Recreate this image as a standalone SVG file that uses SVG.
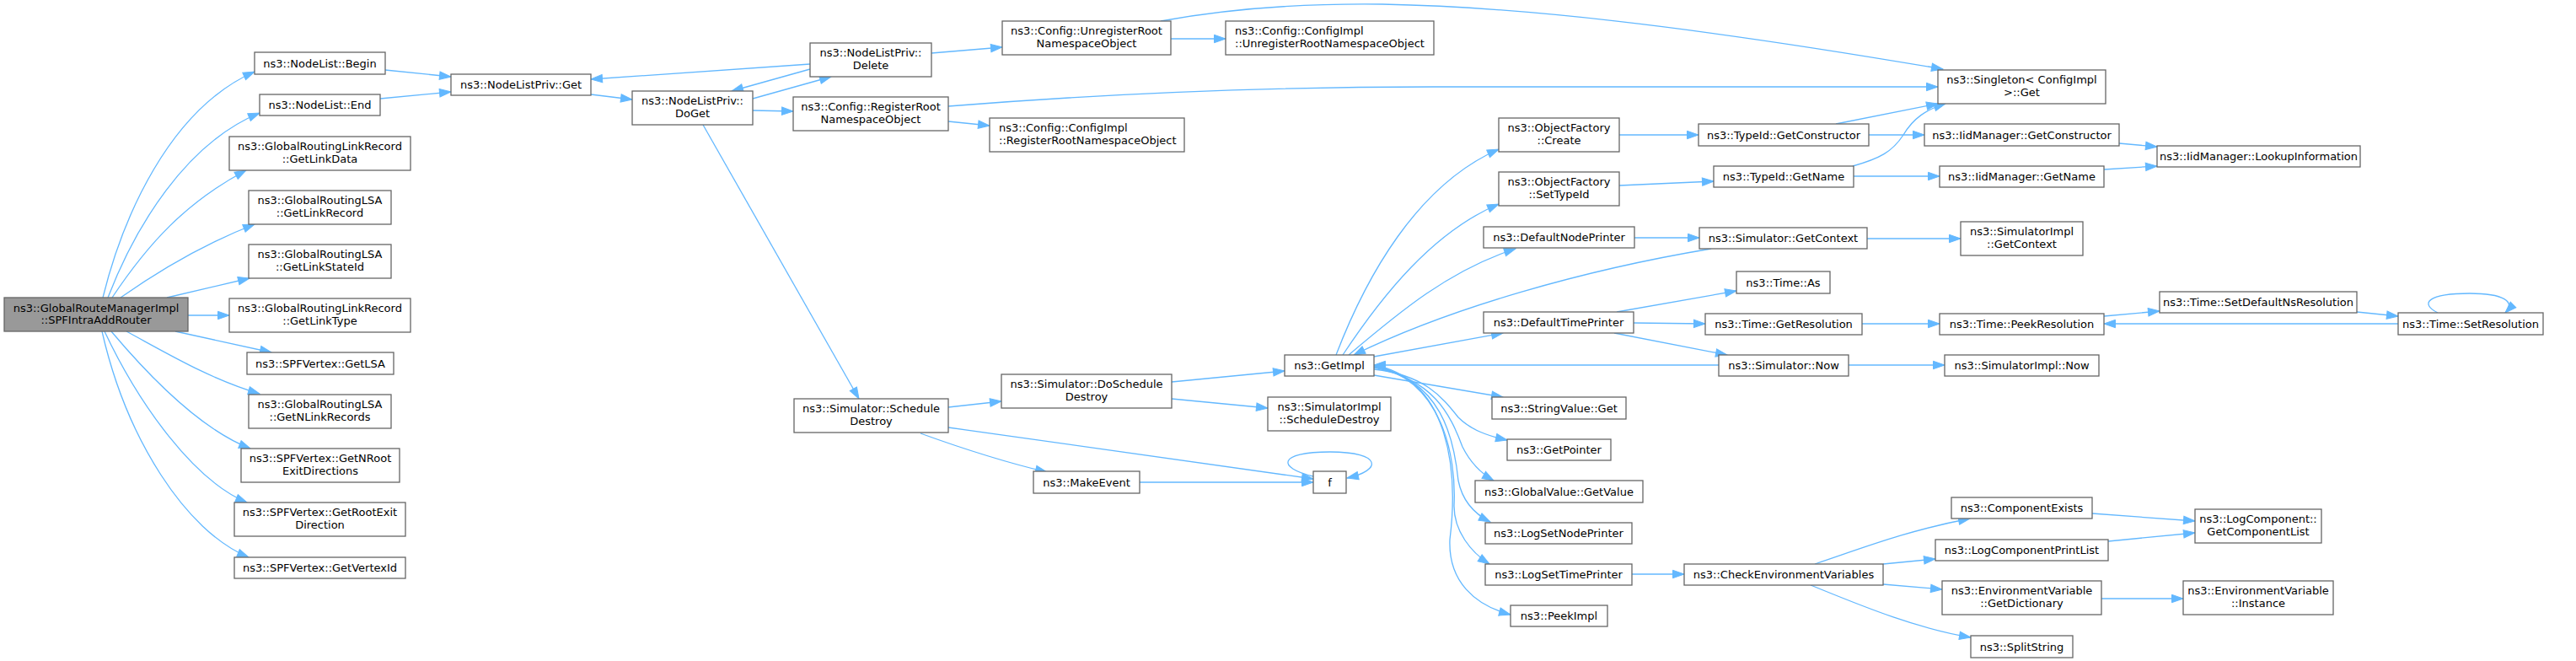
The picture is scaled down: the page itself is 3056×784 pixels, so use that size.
<svg xmlns="http://www.w3.org/2000/svg" width="3056" height="784" viewBox="0 0 3056 784">
<style>
.n rect{fill:#ffffff;stroke:#666666;stroke-width:1.3}
.r rect{fill:#999999;stroke:#666666;stroke-width:1.3}
text{font-family:"DejaVu Sans","Liberation Sans",sans-serif;font-size:13px;fill:#000000;text-anchor:middle}
text.l{text-anchor:start}
#edges path{fill:none;stroke:#63b8ff;stroke-width:1.3;marker-end:url(#ah)}
#edges path.nm{marker-end:none}
</style>
<defs>
<marker id="ah" markerUnits="userSpaceOnUse" markerWidth="15" markerHeight="11" refX="13.5" refY="5" orient="auto" overflow="visible">
<path d="M0,0.3 L13.5,5 L0,9.7 z" fill="#63b8ff" stroke="#63b8ff" stroke-width="1"/>
</marker>
</defs>
<rect width="3056" height="784" fill="#ffffff"/>
<g id="edges">
<path d="M122,353 C145,260 200,130 302,85"/>
<path d="M128,353 C160,270 220,170 308,134"/>
<path d="M133,353 C175,290 220,240 292,202"/>
<path d="M143,353 C190,320 240,290 302,266"/>
<path d="M198,353 L296,330"/>
<path d="M223,374 L272,374"/>
<path d="M208,393 L322,418"/>
<path d="M150,393 C200,420 250,450 308,467"/>
<path d="M132,393 C180,450 240,510 297,532"/>
<path d="M124,393 C165,480 230,570 293,596"/>
<path d="M121,393 C150,520 220,630 295,661"/>
<path d="M457,83 L535,91"/>
<path d="M451,117 L535,109"/>
<path d="M701,112 L750,118"/>
<path d="M961,76 L701,94"/>
<path d="M961,82 L868,108"/>
<path d="M893,117 L986,91"/>
<path d="M893,131 L941,132"/>
<path d="M1105,63 L1189,56"/>
<path d="M1389,46 L1454,46"/>
<path d="M1377,25 C1470,8 1560,4 1640,5 C1800,8 2000,30 2305,82"/>
<path d="M1125,126 C1300,112 1500,103 1700,103 L2299,103"/>
<path d="M1125,144 L1174,149"/>
<path d="M834,148 L1019,473"/>
<path d="M1125,483 L1188,476"/>
<path d="M1092,514 C1150,535 1200,550 1242,560"/>
<path d="M1125,507 L1558,568"/>
<path d="M1352,572 L1558,572"/>
<path d="M1558,565 C1515,555 1515,536 1578,536 C1640,536 1640,558 1598,567"/>
<path d="M1390,453 L1524,440"/>
<path d="M1390,473 L1504,484"/>
<path d="M1585,421 C1620,330 1680,220 1778,177"/>
<path d="M1593,421 C1640,350 1700,275 1778,242"/>
<path d="M1600,421 C1660,370 1720,320 1798,295"/>
<path d="M2030,295 C1880,320 1720,365 1606,421"/>
<path d="M1630,423 L1783,395"/>
<path d="M1630,445 L1783,471"/>
<path d="M1630,438 C1690,445 1710,470 1730,495 C1745,510 1765,517 1788,522"/>
<path d="M1630,436 C1700,450 1720,490 1735,530 C1745,550 1758,562 1772,570"/>
<path d="M1630,435 C1710,450 1725,520 1730,570 C1735,595 1750,610 1768,619"/>
<path d="M1630,434 C1710,450 1728,540 1725,600 C1725,630 1745,655 1767,669"/>
<path d="M1630,433 C1720,450 1730,560 1720,640 C1718,690 1750,718 1792,729"/>
<path d="M2039,433 L1630,433"/>
<path d="M1939,282 L2016,282"/>
<path d="M2215,283 L2326,283"/>
<path d="M1921,160 L2015,160"/>
<path d="M1921,220 L2033,215"/>
<path d="M2178,147 L2299,123"/>
<path d="M2217,160 L2283,160"/>
<path d="M2198,197 C2230,188 2245,180 2258,160 C2270,140 2285,130 2308,123"/>
<path d="M2199,209 L2301,209"/>
<path d="M2514,170 L2559,174"/>
<path d="M2496,201 L2559,197"/>
<path d="M1918,370 L2060,345"/>
<path d="M1938,383 L2023,384"/>
<path d="M1915,395 L2049,421"/>
<path d="M2209,384 L2301,384"/>
<path d="M2496,375 L2562,369"/>
<path d="M2796,370 L2845,375"/>
<path d="M2845,384 L2496,384"/>
<path d="M2892,371 C2870,360 2880,348 2930,348 C2970,348 2985,358 2972,371"/>
<path d="M2193,433 L2307,433"/>
<path d="M1936,681 L1998,681"/>
<path d="M2153,669 C2210,650 2260,630 2337,615"/>
<path d="M2234,669 L2296,663"/>
<path d="M2234,693 L2304,699"/>
<path d="M2148,694 C2200,715 2270,745 2338,756"/>
<path d="M2482,609 L2604,618"/>
<path d="M2501,642 L2604,632"/>
<path d="M2493,710 L2590,710"/>
</g>
<g id="root" class="r"><rect x="5" y="353" width="218" height="40"/><text x="114" y="369.5">ns3::GlobalRouteManagerImpl</text><text x="114" y="384">::SPFIntraAddRouter</text></g>
<g id="begin" class="n"><rect x="302" y="62" width="155" height="26"/><text x="379.5" y="79.5">ns3::NodeList::Begin</text></g>
<g id="end" class="n"><rect x="308" y="112" width="143" height="25"/><text x="379.5" y="129">ns3::NodeList::End</text></g>
<g id="linkdata" class="n"><rect x="272" y="162" width="215" height="40"/><text x="379.5" y="178">ns3::GlobalRoutingLinkRecord</text><text x="379.5" y="193">::GetLinkData</text></g>
<g id="linkrecord" class="n"><rect x="295" y="226" width="169" height="40"/><text x="379.5" y="242">ns3::GlobalRoutingLSA</text><text x="379.5" y="257">::GetLinkRecord</text></g>
<g id="linkstateid" class="n"><rect x="295" y="290" width="169" height="40"/><text x="379.5" y="306">ns3::GlobalRoutingLSA</text><text x="379.5" y="321">::GetLinkStateId</text></g>
<g id="linktype" class="n"><rect x="272" y="354" width="215" height="40"/><text x="379.5" y="370">ns3::GlobalRoutingLinkRecord</text><text x="379.5" y="385">::GetLinkType</text></g>
<g id="getlsa" class="n"><rect x="293" y="418" width="174" height="26"/><text x="380" y="435.5">ns3::SPFVertex::GetLSA</text></g>
<g id="nlinkrecords" class="n"><rect x="295" y="468" width="169" height="40"/><text x="379.5" y="484">ns3::GlobalRoutingLSA</text><text x="379.5" y="499">::GetNLinkRecords</text></g>
<g id="nrootexit" class="n"><rect x="286" y="532" width="188" height="40"/><text x="380" y="548">ns3::SPFVertex::GetNRoot</text><text x="380" y="563">ExitDirections</text></g>
<g id="rootexit" class="n"><rect x="278" y="596" width="203" height="40"/><text x="379.5" y="612">ns3::SPFVertex::GetRootExit</text><text x="379.5" y="627">Direction</text></g>
<g id="vertexid" class="n"><rect x="278" y="661" width="203" height="25"/><text x="379.5" y="678">ns3::SPFVertex::GetVertexId</text></g>
<g id="nlpget" class="n"><rect x="535" y="88" width="166" height="25"/><text x="618" y="105">ns3::NodeListPriv::Get</text></g>
<g id="doget" class="n"><rect x="750" y="108" width="143" height="40"/><text x="821.5" y="124">ns3::NodeListPriv::</text><text x="821.5" y="139">DoGet</text></g>
<g id="delete" class="n"><rect x="961" y="51" width="144" height="40"/><text x="1033" y="67">ns3::NodeListPriv::</text><text x="1033" y="82">Delete</text></g>
<g id="regroot" class="n"><rect x="941" y="115" width="184" height="40"/><text x="1033" y="131">ns3::Config::RegisterRoot</text><text x="1033" y="146">NamespaceObject</text></g>
<g id="unregroot" class="n"><rect x="1189" y="25" width="200" height="40"/><text x="1289" y="41">ns3::Config::UnregisterRoot</text><text x="1289" y="56">NamespaceObject</text></g>
<g id="ciunreg" class="n"><rect x="1454" y="25" width="247" height="40"/><text class="l" x="1465" y="41">ns3::Config::ConfigImpl</text><text class="l" x="1465" y="56">::UnregisterRootNamespaceObject</text></g>
<g id="cireg" class="n"><rect x="1174" y="140" width="231" height="40"/><text class="l" x="1185" y="156">ns3::Config::ConfigImpl</text><text class="l" x="1185" y="171">::RegisterRootNamespaceObject</text></g>
<g id="schedd" class="n"><rect x="942" y="473" width="183" height="40"/><text x="1033.5" y="489">ns3::Simulator::Schedule</text><text x="1033.5" y="504">Destroy</text></g>
<g id="doschedd" class="n"><rect x="1188" y="444" width="202" height="40"/><text x="1289" y="460">ns3::Simulator::DoSchedule</text><text x="1289" y="475">Destroy</text></g>
<g id="makeevent" class="n"><rect x="1226" y="559" width="126" height="26"/><text x="1289" y="576.5">ns3::MakeEvent</text></g>
<g id="getimpl" class="n"><rect x="1524" y="421" width="106" height="25"/><text x="1577" y="438">ns3::GetImpl</text></g>
<g id="siimpschedd" class="n"><rect x="1504" y="471" width="146" height="40"/><text x="1577" y="487">ns3::SimulatorImpl</text><text x="1577" y="502">::ScheduleDestroy</text></g>
<g id="f" class="n"><rect x="1558" y="559" width="39" height="26"/><text x="1577.5" y="576.5">f</text></g>
<g id="ofcreate" class="n"><rect x="1778" y="140" width="143" height="40"/><text x="1849.5" y="156">ns3::ObjectFactory</text><text x="1849.5" y="171">::Create</text></g>
<g id="ofsettype" class="n"><rect x="1778" y="204" width="143" height="40"/><text x="1849.5" y="220">ns3::ObjectFactory</text><text x="1849.5" y="235">::SetTypeId</text></g>
<g id="dnp" class="n"><rect x="1760" y="269" width="179" height="25"/><text x="1849.5" y="286">ns3::DefaultNodePrinter</text></g>
<g id="dtp" class="n"><rect x="1760" y="370" width="178" height="25"/><text x="1849" y="387">ns3::DefaultTimePrinter</text></g>
<g id="strget" class="n"><rect x="1770" y="471" width="159" height="26"/><text x="1849.5" y="488.5">ns3::StringValue::Get</text></g>
<g id="getptr" class="n"><rect x="1788" y="521" width="123" height="25"/><text x="1849.5" y="538">ns3::GetPointer</text></g>
<g id="gvget" class="n"><rect x="1750" y="570" width="199" height="26"/><text x="1849.5" y="587.5">ns3::GlobalValue::GetValue</text></g>
<g id="lsnp" class="n"><rect x="1762" y="620" width="174" height="25"/><text x="1849" y="637">ns3::LogSetNodePrinter</text></g>
<g id="lstp" class="n"><rect x="1762" y="669" width="174" height="25"/><text x="1849" y="686">ns3::LogSetTimePrinter</text></g>
<g id="peekimpl" class="n"><rect x="1792" y="718" width="115" height="25"/><text x="1849.5" y="735">ns3::PeekImpl</text></g>
<g id="singleton" class="n"><rect x="2299" y="83" width="199" height="40"/><text x="2398.5" y="99">ns3::Singleton&lt; ConfigImpl</text><text x="2398.5" y="114">&gt;::Get</text></g>
<g id="tigc" class="n"><rect x="2015" y="147" width="202" height="26"/><text x="2116" y="164.5">ns3::TypeId::GetConstructor</text></g>
<g id="iigc" class="n"><rect x="2283" y="147" width="231" height="26"/><text x="2398.5" y="164.5">ns3::IidManager::GetConstructor</text></g>
<g id="tign" class="n"><rect x="2033" y="197" width="166" height="25"/><text x="2116" y="214">ns3::TypeId::GetName</text></g>
<g id="iign" class="n"><rect x="2301" y="197" width="195" height="25"/><text x="2398.5" y="214">ns3::IidManager::GetName</text></g>
<g id="lookup" class="n"><rect x="2559" y="173" width="241" height="25"/><text x="2679.5" y="190">ns3::IidManager::LookupInformation</text></g>
<g id="sgc" class="n"><rect x="2016" y="270" width="199" height="25"/><text x="2115.5" y="287">ns3::Simulator::GetContext</text></g>
<g id="sigc" class="n"><rect x="2326" y="263" width="145" height="40"/><text x="2398.5" y="279">ns3::SimulatorImpl</text><text x="2398.5" y="294">::GetContext</text></g>
<g id="timeas" class="n"><rect x="2060" y="322" width="111" height="26"/><text x="2115.5" y="339.5">ns3::Time::As</text></g>
<g id="tgr" class="n"><rect x="2023" y="372" width="186" height="25"/><text x="2116" y="389">ns3::Time::GetResolution</text></g>
<g id="tpr" class="n"><rect x="2301" y="372" width="195" height="25"/><text x="2398.5" y="389">ns3::Time::PeekResolution</text></g>
<g id="tsdnr" class="n"><rect x="2562" y="346" width="234" height="25"/><text x="2679" y="363">ns3::Time::SetDefaultNsResolution</text></g>
<g id="tsr" class="n"><rect x="2845" y="371" width="172" height="26"/><text x="2931" y="388.5">ns3::Time::SetResolution</text></g>
<g id="snow" class="n"><rect x="2039" y="421" width="154" height="25"/><text x="2116" y="438">ns3::Simulator::Now</text></g>
<g id="sinow" class="n"><rect x="2307" y="421" width="183" height="25"/><text x="2398.5" y="438">ns3::SimulatorImpl::Now</text></g>
<g id="cev" class="n"><rect x="1998" y="669" width="236" height="25"/><text x="2116" y="686">ns3::CheckEnvironmentVariables</text></g>
<g id="compexists" class="n"><rect x="2315" y="590" width="167" height="25"/><text x="2398.5" y="607">ns3::ComponentExists</text></g>
<g id="lcpl" class="n"><rect x="2296" y="640" width="205" height="25"/><text x="2398.5" y="657">ns3::LogComponentPrintList</text></g>
<g id="evgd" class="n"><rect x="2304" y="689" width="189" height="40"/><text x="2398.5" y="705">ns3::EnvironmentVariable</text><text x="2398.5" y="720">::GetDictionary</text></g>
<g id="splitstr" class="n"><rect x="2338" y="754" width="121" height="26"/><text x="2398.5" y="771.5">ns3::SplitString</text></g>
<g id="lcgcl" class="n"><rect x="2604" y="604" width="150" height="40"/><text x="2679" y="620">ns3::LogComponent::</text><text x="2679" y="635">GetComponentList</text></g>
<g id="evinst" class="n"><rect x="2590" y="689" width="178" height="40"/><text x="2679" y="705">ns3::EnvironmentVariable</text><text x="2679" y="720">::Instance</text></g>
</svg>
